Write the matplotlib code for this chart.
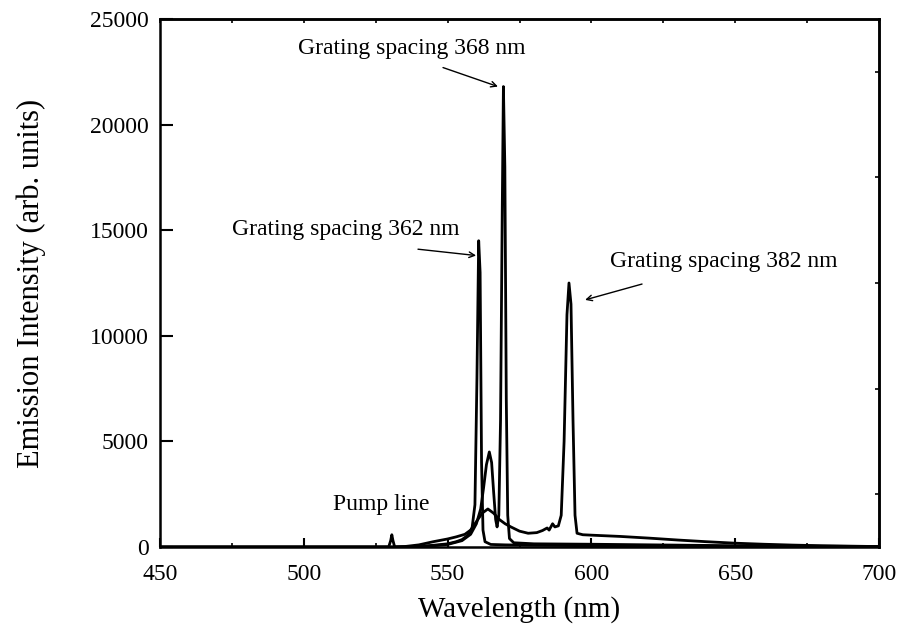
import matplotlib
matplotlib.use('Agg')
import matplotlib.pyplot as plt
from matplotlib.ticker import MultipleLocator

plt.rcParams['font.family'] = ['Liberation Serif', 'DejaVu Serif']

# spectra (wavelength in nm, intensity in arb. units)
wl_362 = [450, 500, 530, 540, 545, 550, 553, 555, 557, 558.5, 559.5, 560.2, 560.8,
          561.3, 561.8, 562.3, 563, 565, 570, 580, 600, 650, 700]
int_362 = [0, 0, 0, 30, 80, 150, 250, 350, 550, 900, 2000, 8000, 14500,
           13000, 4000, 800, 250, 120, 100, 80, 60, 30, 0]

wl_368 = [450, 500, 540, 545, 550, 555, 558, 560, 561.5, 562.5, 563.5, 564.5, 565.3,
          566, 566.7, 567.2, 567.8, 568.4, 569.0, 569.4, 569.9, 570.4, 570.9, 571.5,
          573, 580, 600, 650, 700]
int_368 = [0, 0, 0, 60, 120, 300, 600, 1100, 1800, 2800, 3900, 4500, 4000,
           2600, 1300, 950, 1500, 6000, 16000, 21800, 18000, 7000, 1500, 400,
           200, 150, 130, 60, 20]

wl_382 = [450, 500, 525, 529.5, 530.2, 530.6, 531.0, 531.6, 535, 540, 545, 550, 553,
          556, 558, 560, 562, 564, 566, 568, 570, 572, 575, 578, 581, 583, 584.6,
          585.3, 586.5, 587.3, 588.5, 589.5, 590.5, 591.5, 592.2, 592.9, 593.6, 594.3,
          595, 597, 600, 610, 620, 630, 640, 650, 660, 670, 680, 690, 700]
int_382 = [0, 0, 0, 0, 300, 580, 300, 0, 20, 100, 250, 380, 480,
           600, 800, 1200, 1600, 1800, 1600, 1300, 1100, 950, 750, 650, 680, 780, 900,
           800, 1100, 950, 1000, 1500, 5000, 11000, 12500, 11500, 6000, 1500,
           650, 580, 560, 500, 420, 330, 250, 180, 130, 90, 60, 40, 20]

fig = plt.figure(figsize=(9.01, 6.35), dpi=100)
ax = fig.add_axes([0.1776, 0.1386, 0.798, 0.8315])

for wl, inten in [(wl_382, int_382), (wl_368, int_368), (wl_362, int_362)]:
    ax.plot(wl, inten, color='black', lw=2.0)

ax.set_xlim(450, 700)
ax.set_ylim(0, 25000)
ax.xaxis.set_major_locator(MultipleLocator(50))
ax.xaxis.set_minor_locator(MultipleLocator(25))
ax.yaxis.set_major_locator(MultipleLocator(5000))

for s in ax.spines.values():
    s.set_linewidth(1.8)

ax.tick_params(which='major', direction='in', width=1.5, labelsize=17,
               top=False, right=False)
ax.tick_params(axis='y', which='major', length=9, pad=8)
ax.tick_params(axis='x', which='major', length=6.5, pad=12)
ax.tick_params(which='minor', direction='in', length=3, width=1.2, top=False, right=False)

# short ticks on the top and right frame
top = ax.secondary_xaxis('top')
top.xaxis.set_major_locator(MultipleLocator(25))
top.tick_params(direction='in', length=3, width=1.2, labeltop=False)
right = ax.secondary_yaxis('right')
right.set_yticks([2500, 7500, 12500, 17500, 22500])
right.tick_params(direction='in', length=3, width=1.2, labelright=False)
top.spines['top'].set_linewidth(1.8)
right.spines['right'].set_linewidth(1.8)

ax.set_xlabel('Wavelength (nm)', fontsize=21, labelpad=8)
ax.set_ylabel('Emission Intensity (arb. units)', fontsize=22, labelpad=32)

arrow = dict(arrowstyle='->', color='black', lw=1.0, shrinkA=0, shrinkB=0)
ax.text(537.6, 23600, 'Grating spacing 368 nm', fontsize=17, ha='center', va='center')
ax.annotate('', xy=(567.5, 21800), xytext=(548.4, 22700), arrowprops=arrow)
ax.text(514.7, 15050, 'Grating spacing 362 nm', fontsize=17, ha='center', va='center')
ax.annotate('', xy=(559.9, 13800), xytext=(539.7, 14100), arrowprops=arrow)
ax.text(645.9, 13500, 'Grating spacing 382 nm', fontsize=17, ha='center', va='center')
ax.annotate('', xy=(597.8, 11700), xytext=(617.6, 12450), arrowprops=arrow)
ax.text(526.8, 2000, 'Pump line', fontsize=17, ha='center', va='center')

fig.savefig('out.png', dpi=100)
